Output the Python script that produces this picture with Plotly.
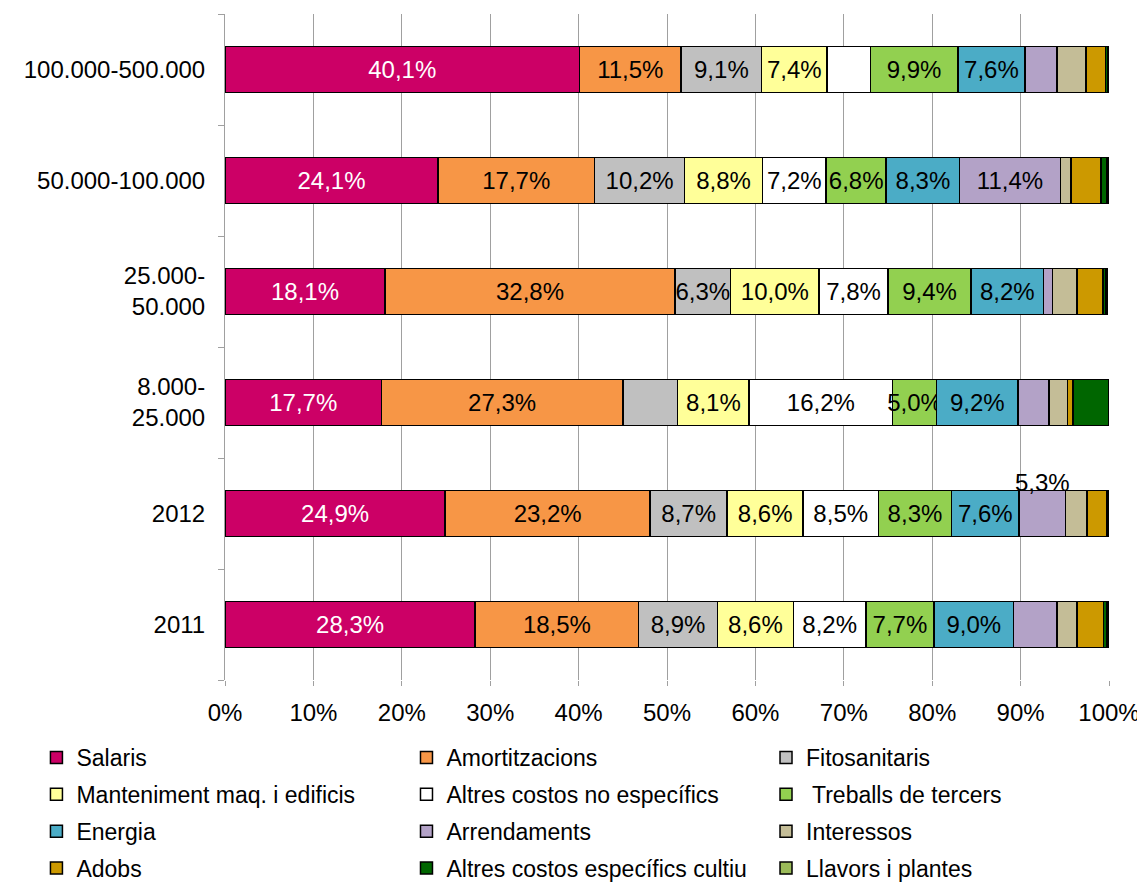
import plotly.graph_objects as go

categories = ["2011", "2012", "8.000-25.000", "25.000-50.000", "50.000-100.000", "100.000-500.000"]
tick_labels = ["2011", "2012", "8.000-<br>25.000", "25.000-<br>50.000", "50.000-100.000", "100.000-500.000"]

series_names = [
    "Salaris", "Amortitzacions", "Fitosanitaris",
    "Manteniment maq. i edificis", "Altres costos no específics", " Treballs de tercers",
    "Energia", "Arrendaments", "Interessos",
    "Adobs", "Altres costos específics cultiu", "Llavors i plantes",
]

salaris = [28.3, 24.9, 17.7, 18.1, 24.1, 40.1]
amortitzacions = [18.5, 23.2, 27.3, 32.8, 17.7, 11.5]
fitosanitaris = [8.9, 8.7, 6.2, 6.3, 10.2, 9.1]
manteniment = [8.6, 8.6, 8.1, 10.0, 8.8, 7.4]
altres_no_especifics = [8.2, 8.5, 16.2, 7.8, 7.2, 4.9]
treballs_tercers = [7.7, 8.3, 5.0, 9.4, 6.8, 9.9]
energia = [9.0, 7.6, 9.2, 8.2, 8.3, 7.6]
arrendaments = [4.9, 5.3, 3.5, 1.0, 11.4, 3.6]
interessos = [2.3, 2.4, 2.1, 2.8, 1.2, 3.3]
adobs = [3.0, 2.2, 0.6, 2.9, 3.4, 2.2]
altres_especifics = [0.3, 0.2, 4.1, 0.3, 0.6, 0.3]
llavors = [0.2, 0.1, 0.0, 0.2, 0.2, 0.1]

values = [salaris, amortitzacions, fitosanitaris, manteniment, altres_no_especifics,
          treballs_tercers, energia, arrendaments, interessos, adobs, altres_especifics, llavors]

colors = ["#CC0066", "#F79646", "#C0C0C0", "#FFFF99", "#FFFFFF", "#92D050",
          "#4BACC6", "#B3A2C7", "#C4BD97", "#CC9900", "#006600", "#9BBB59"]

# which labels are shown inside the bars (per series, per category)
show_inside = [
    [1, 1, 1, 1, 1, 1],
    [1, 1, 1, 1, 1, 1],
    [1, 1, 0, 1, 1, 1],
    [1, 1, 1, 1, 1, 1],
    [1, 1, 1, 1, 1, 0],
    [1, 1, 1, 1, 1, 1],
    [1, 1, 1, 1, 1, 1],
    [0, 0, 0, 0, 1, 0],
    [0, 0, 0, 0, 0, 0],
    [0, 0, 0, 0, 0, 0],
    [0, 0, 0, 0, 0, 0],
    [0, 0, 0, 0, 0, 0],
]
# label drawn above the bar: (series index, category)
above_label = (7, "2012")

FONT = "Liberation Sans, Arial, sans-serif"

def fmt(v):
    return f"{v:.1f}".replace(".", ",") + "%"

fig = go.Figure()
legend_ids = ["legend", "legend2", "legend3"]
for i, (name, vals, col) in enumerate(zip(series_names, values, colors)):
    texts = [fmt(v) if s else "" for v, s in zip(vals, show_inside[i])]
    fig.add_trace(go.Bar(
        y=categories, x=vals, name=name, orientation="h",
        marker=dict(color=col, line=dict(color="#000000", width=1.5)),
        text=texts, textposition="inside", insidetextanchor="middle",
        textangle=0, constraintext="none",
        textfont=dict(family=FONT, size=24, color="#FFFFFF" if i == 0 else "#000000"),
        legend=legend_ids[i % 3], legendgroup=name,
        hoverinfo="x+name",
    ))

# label above the bar (category index used as the y position)
si, cat = above_label
ci = categories.index(cat)
start = sum(values[k][ci] for k in range(si))
fig.add_annotation(x=start + values[si][ci] / 2, y=ci, xref="x", yref="y",
                   text=fmt(values[si][ci]),
                   showarrow=False, yshift=31, font=dict(family=FONT, size=24, color="#000"))

leg_common = dict(font=dict(family=FONT, size=23, color="#000"), bgcolor="rgba(0,0,0,0)",
                  xanchor="left", yanchor="top", orientation="v", tracegroupgap=4,
                  itemwidth=30)
LY = -0.084
fig.update_layout(
    barmode="stack",
    bargap=0.585,
    width=1145, height=882,
    margin=dict(l=217, r=44, t=6, b=210, autoexpand=False),
    paper_bgcolor="#FFFFFF", plot_bgcolor="#FFFFFF",
    font=dict(family=FONT, size=24, color="#000"),
    showlegend=True,
    legend=dict(x=-0.2133, y=LY, **leg_common),
    legend2=dict(x=0.2053, y=LY, **leg_common),
    legend3=dict(x=0.6120, y=LY, **leg_common),
    xaxis=dict(range=[0, 100], dtick=10, ticksuffix="%", showgrid=True,
               gridcolor="#A0A0A0", gridwidth=1, zeroline=False, showline=False,
               ticks="outside", ticklen=5, tickcolor="#A0A0A0", automargin=False,
               ticklabelstandoff=6,
               tickfont=dict(family=FONT, size=24, color="#000")),
    yaxis=dict(type="category", categoryorder="array", categoryarray=categories,
               range=[-0.5, len(categories) - 0.5], autorange=False,
               tickvals=categories, ticktext=tick_labels, automargin=False,
               showline=True, linecolor="#A0A0A0", linewidth=1,
               ticks="outside", ticklen=6, tickcolor="#A0A0A0", tickson="boundaries",
               showgrid=False, ticklabelstandoff=14,
               tickfont=dict(family=FONT, size=24, color="#000")),
)

fig.write_html("out.html")
